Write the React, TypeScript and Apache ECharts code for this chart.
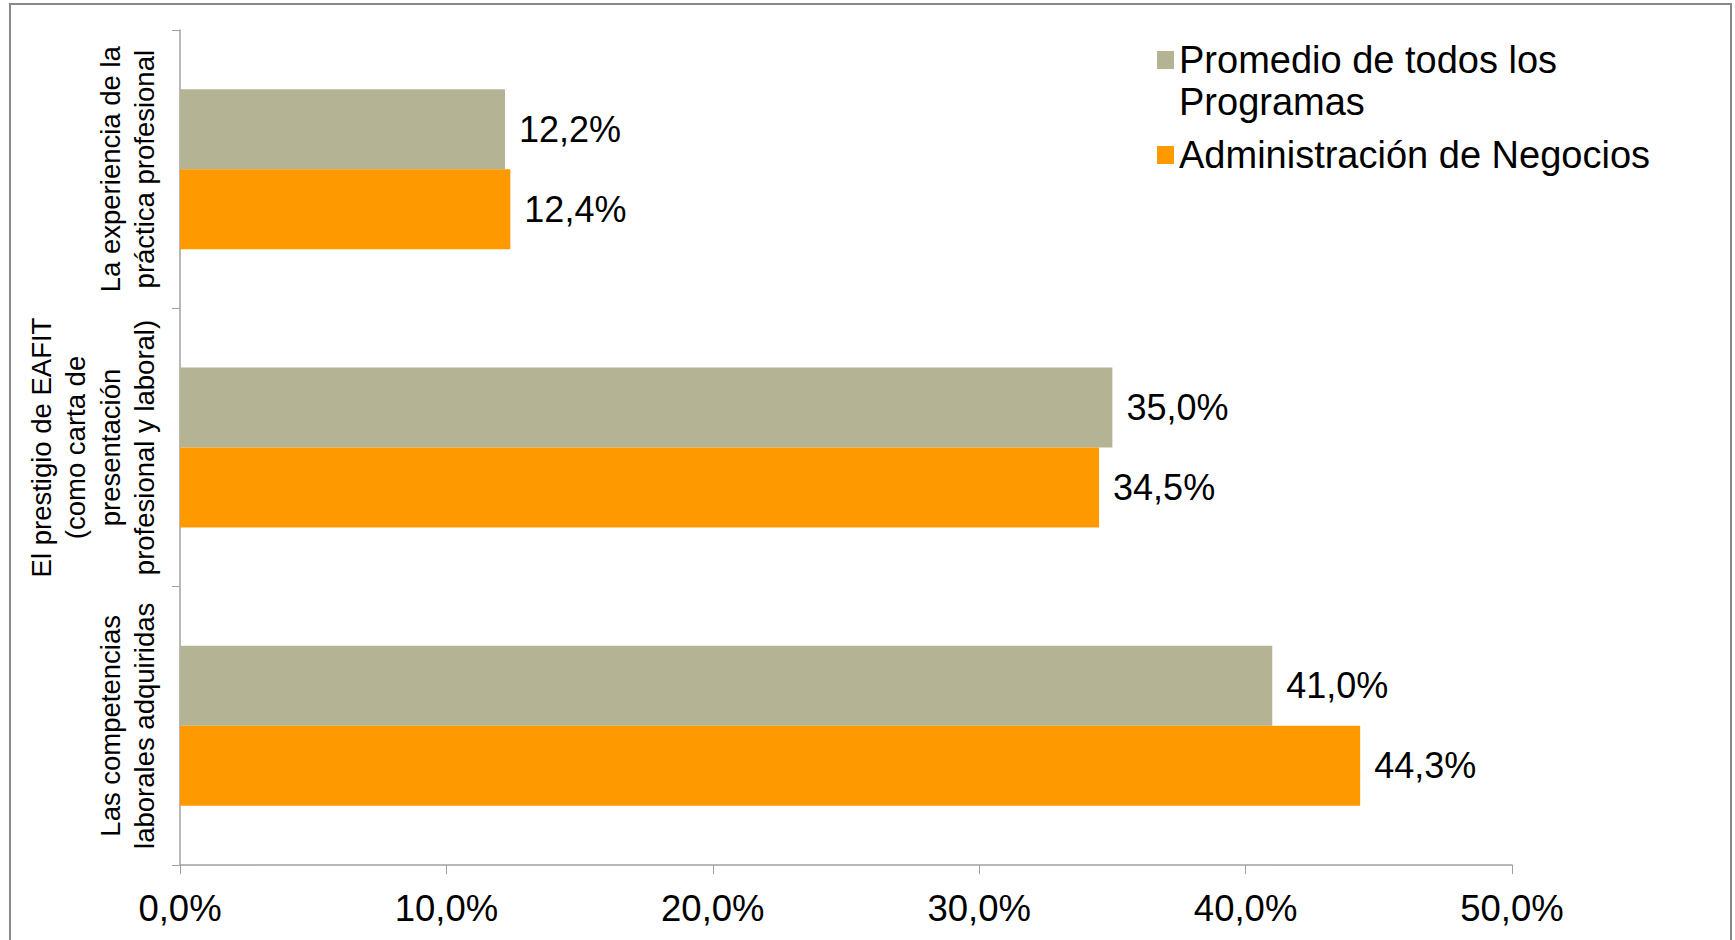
import React, { useEffect, useRef } from "react";
import * as echarts from "echarts";

const categories = [
  "La experiencia de la\npráctica profesional",
  "El prestigio de EAFIT\n(como carta de\npresentación\nprofesional y laboral)",
  "Las competencias\nlaborales adquiridas",
];
const seriesNames = ["Promedio de todos los\nProgramas", "Administración de Negocios"];
const promedioValues = [12.2, 35.0, 41.0];
const administracionValues = [12.4, 34.5, 44.3];
const xTicks = { min: 0, max: 50, interval: 10 };

const FONT = "'Liberation Sans', Arial, sans-serif";
const fmt = (v: number) => v.toFixed(1).replace(".", ",") + "%";

export default function App() {
  const ref = useRef<HTMLDivElement>(null);
  useEffect(() => {
    if (!ref.current) return;
    const chart = echarts.init(ref.current, null, { renderer: "svg" });
    chart.setOption({
      animation: false,
      backgroundColor: "#ffffff",
      textStyle: { fontFamily: FONT, color: "#000" },
      grid: { left: 180, top: 30, width: 1332, height: 835 },
      legend: [
        {
          orient: "vertical",
          left: 1157,
          top: -3,
          padding: 0,
          icon: "rect",
          itemWidth: 17,
          itemHeight: 18,
          itemGap: 0,
          data: [seriesNames[0]],
          formatter: (name: string) => " \n" + name,
          textStyle: {
            fontFamily: FONT,
            fontSize: 38,
            color: "#000",
            lineHeight: 42,
          },
        },
        {
          orient: "vertical",
          left: 1157,
          top: 134,
          padding: 0,
          icon: "rect",
          itemWidth: 17,
          itemHeight: 18,
          data: [seriesNames[1]],
          textStyle: { fontFamily: FONT, fontSize: 38, color: "#000", lineHeight: 42 },
        },
      ],
      xAxis: {
        type: "value",
        min: xTicks.min,
        max: xTicks.max,
        interval: xTicks.interval,
        axisLine: { show: true, lineStyle: { color: "#a0a0a0", width: 1.5 } },
        axisTick: { show: true, length: 9, lineStyle: { color: "#a0a0a0", width: 1 } },
        splitLine: { show: false },
        axisLabel: {
          formatter: (v: number) => fmt(v),
          fontFamily: FONT,
          fontSize: 36.5,
          color: "#000",
          margin: 25,
        },
      },
      yAxis: {
        type: "category",
        inverse: true,
        data: categories,
        axisLine: { show: true, lineStyle: { color: "#a0a0a0", width: 1.5 } },
        axisTick: { show: true, length: 8, lineStyle: { color: "#a0a0a0", width: 1 } },
        axisLabel: {
          interval: 0,
          hideOverlap: false,
          rotate: 90,
          fontFamily: FONT,
          fontSize: 27.5,
          lineHeight: 34.5,
          color: "#000",
          margin: 18,
          align: "center",
        },
      },
      series: [
        {
          name: seriesNames[0],
          type: "bar",
          data: promedioValues,
          barWidth: 80,
          barGap: "0%",
          itemStyle: { color: "#b4b494" },
          label: {
            show: true,
            position: "right",
            distance: 14,
            fontFamily: FONT,
            fontSize: 36,
            color: "#000",
            formatter: (p: any) => fmt(p.value),
          },
        },
        {
          name: seriesNames[1],
          type: "bar",
          data: administracionValues,
          barWidth: 80,
          barGap: "0%",
          itemStyle: { color: "#ff9900" },
          label: {
            show: true,
            position: "right",
            distance: 14,
            fontFamily: FONT,
            fontSize: 36,
            color: "#000",
            formatter: (p: any) => fmt(p.value),
          },
        },
      ],
      graphic: [
        {
          type: "rect",
          shape: { x: 10, y: 4, width: 1721, height: 960 },
          style: { fill: "none", stroke: "#898989", lineWidth: 2 },
          silent: true,
        },
      ],
    });
    return () => chart.dispose();
  }, []);
  return (
    <div
      ref={ref}
      style={{ position: "absolute", left: 0, top: 0, width: 1735, height: 940 }}
    />
  );
}
